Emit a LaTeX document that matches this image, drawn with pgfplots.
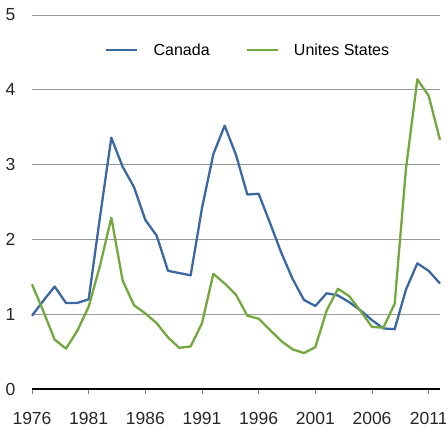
\documentclass[border=0pt]{standalone}
\usepackage{pgfplots}
\pgfplotsset{compat=1.18}
\usepackage{pgfplotstable}
\usepackage{fontspec}
\setmainfont{Liberation Sans}
\definecolor{cablue}{RGB}{59,104,163}
\definecolor{usgreen}{RGB}{114,168,62}
\pgfplotstableread{
year val
1976 0.98
1977 1.18
1978 1.37
1979 1.15
1980 1.15
1981 1.20
1982 2.30
1983 3.36
1984 2.97
1985 2.70
1986 2.26
1987 2.05
1988 1.58
1989 1.55
1990 1.52
1991 2.42
1992 3.14
1993 3.52
1994 3.13
1995 2.60
1996 2.61
1997 2.22
1998 1.82
1999 1.47
2000 1.19
2001 1.11
2002 1.28
2003 1.25
2004 1.16
2005 1.05
2006 0.92
2007 0.81
2008 0.80
2009 1.33
2010 1.68
2011 1.58
2012 1.41
}\canada
\pgfplotstableread{
year val
1976 1.40
1977 1.04
1978 0.66
1979 0.54
1980 0.78
1981 1.10
1982 1.65
1983 2.29
1984 1.45
1985 1.12
1986 1.01
1987 0.88
1988 0.69
1989 0.55
1990 0.57
1991 0.88
1992 1.54
1993 1.41
1994 1.26
1995 0.98
1996 0.94
1997 0.79
1998 0.64
1999 0.53
2000 0.48
2001 0.56
2002 1.05
2003 1.34
2004 1.24
2005 1.04
2006 0.83
2007 0.82
2008 1.14
2009 2.95
2010 4.14
2011 3.92
2012 3.33
}\usa
\begin{document}
\begin{tikzpicture}
\path[use as bounding box] (-32pt,-40pt) rectangle (414pt,389pt);
\begin{axis}[
  scale only axis,
  width=408pt, height=374pt,
  xmin=1976, xmax=2012, ymin=0, ymax=5,
  enlargelimits=false,
  clip=false,
  axis x line*=bottom, axis y line*=left,
  x axis line style={black, line width=2pt, -},
  y axis line style={draw=none},
  xtick={1976,1981,...,2011},
  ytick={0,1,...,5},
  tick align=outside,
  major tick length=5pt,
  x tick style={gray, line width=0.6pt},
  y tick style={draw=none},
  ymajorgrids,
  grid style={gray!80, line width=0.8pt},
  /pgf/number format/assume math mode=true,
  /pgf/number format/1000 sep={},
  tick label style={font=\fontsize{17.5}{20}\selectfont, text=black!85},
  yticklabel style={xshift=-8pt},
  xticklabel style={yshift=-15pt},
  legend style={at={(0.53,0.906)}, anchor=center, draw=none, fill=none,
    font=\fontsize{16}{19}\selectfont, legend columns=2,
    /tikz/every even column/.append style={column sep=34pt}},
  legend image code/.code={\draw[#1] (0pt,0pt) -- (31pt,0pt); \path (44pt,0pt);},
]
\addplot[cablue, line width=2.3pt, line join=round] table[x=year,y=val]{\canada};
\addlegendentry{Canada}
\addplot[usgreen, line width=2.3pt, line join=round] table[x=year,y=val]{\usa};
\addlegendentry{Unites States}
\end{axis}
\end{tikzpicture}
\end{document}
